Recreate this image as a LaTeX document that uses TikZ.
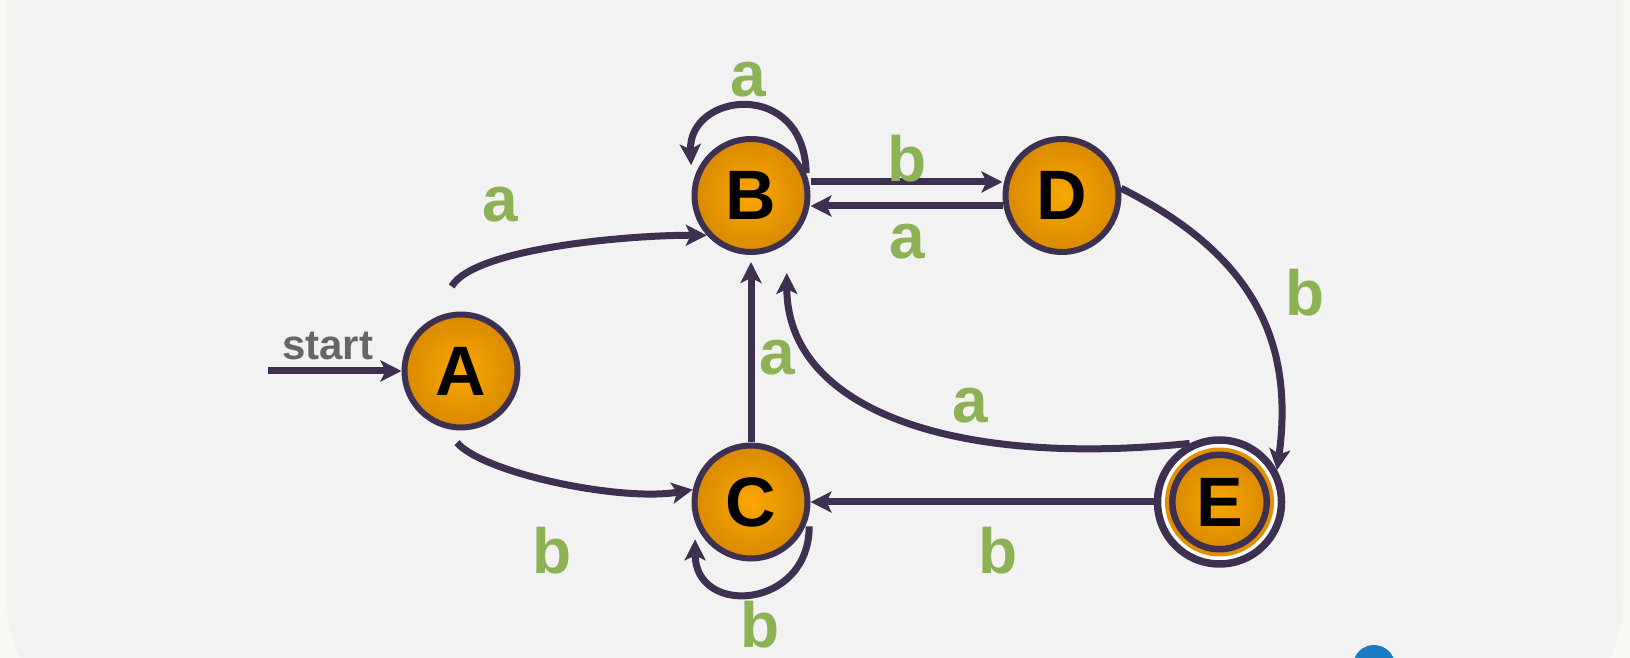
\documentclass[tikz,border=0pt]{standalone}
\usepackage{fontspec}
\setmainfont{Liberation Sans}
\usetikzlibrary{arrows.meta}
\definecolor{bg}{HTML}{F2F2F2}
\definecolor{outside}{HTML}{F8F8F4}
\definecolor{edgec}{HTML}{3D3050}
\definecolor{lbl}{HTML}{8DB255}
\definecolor{orin}{HTML}{FAA700}
\definecolor{orout}{HTML}{D98A00}
\definecolor{ring}{HTML}{E48F00}
\definecolor{startc}{HTML}{666666}
\definecolor{logo}{HTML}{1A7DC4}
\begin{document}
\begin{tikzpicture}[x=1pt,y=1pt,
 stnode/.style={circle, draw=edgec, line width=6pt, minimum size=113pt, inner sep=0pt,
   inner color=orin, outer color=orout, font=\fontsize{70}{70}\selectfont\bfseries},
 trans/.style={draw=edgec, line width=7pt, -{Stealth[length=21pt,width=21pt,inset=5pt]}},
 lab/.style={text=lbl, inner sep=0pt, font=\fontsize{64}{64}\selectfont\bfseries},
]
\useasboundingbox (0,0) rectangle (1630,658);
\clip (0,0) rectangle (1630,658);
\fill[outside] (0,0) rectangle (1630,658);
\fill[bg, rounded corners=136pt] (7,-78) rectangle (1623,900);
\fill[logo] (1374,-8) circle (21);

% states
\node[stnode] (A) at (461,287) {A};
\node[stnode] (B) at (751,462.5) {B};
\node[stnode] (C) at (751,156) {C};
\node[stnode] (D) at (1062,462.5) {D};
\node[circle, draw=edgec, fill=white, line width=7.5pt, minimum size=124pt, inner sep=0pt] (E) at (1219.5,156) {};
\fill[ring] (E.center) circle (54.5);
\node[stnode, minimum size=94.4pt, line width=6.5pt] (Ein) at (E.center) {E};

% start
\coordinate (s) at (268,287);
\draw[trans] (s) -- (A.west);
\node[font=\fontsize{42}{42}\selectfont\bfseries, text=startc, inner sep=0pt] (st) at (327.7,312) {start};

% transitions
\draw[trans, shorten <=37pt] (A.118) .. controls (474,410) and (630,423) .. (B.222);
\draw[trans, shorten <=19pt] (A.254) .. controls (483,185) and (620,156) .. (C.168);
\draw[trans, shorten >=22pt] (B.22) .. controls +(-2,95) and +(-4,95) .. (B.172);
\draw[trans, shorten <=12pt, shorten >=17pt] (C.-12) .. controls +(0,-95) and +(0,-95) .. (C.200);
\draw[trans] ([yshift=13.5pt]B.east) -- ([yshift=13.5pt]D.west);
\draw[trans] ([yshift=-10.5pt]D.west) -- ([yshift=-10.5pt]B.east);
\draw[trans, shorten >=7pt] (C.north) -- (B.south);
\draw[trans] (E.west) -- (C.east);
\draw[trans, shorten >=30pt] (E.117) .. controls (950,190) and (786.8,250) .. (B.-53);
\draw[trans] (D.7) .. controls (1250,405) and (1295,320) .. (E.29);

% labels
\node[lab] (l1) at (500,453) {a};
\node[lab] (l2) at (552,107) {b};
\node[lab] (l3) at (748.5,578) {a};
\node[lab] (l4) at (907.5,499) {b};
\node[lab] (l5) at (907.5,416) {a};
\node[lab] (l6) at (1304.6,365) {b};
\node[lab] (l7) at (970,252.6) {a};
\node[lab] (l8) at (777.3,300.7) {a};
\node[lab] (l9) at (998,107) {b};
\node[lab] (l10) at (760.3,33.5) {b};
\end{tikzpicture}
\end{document}
